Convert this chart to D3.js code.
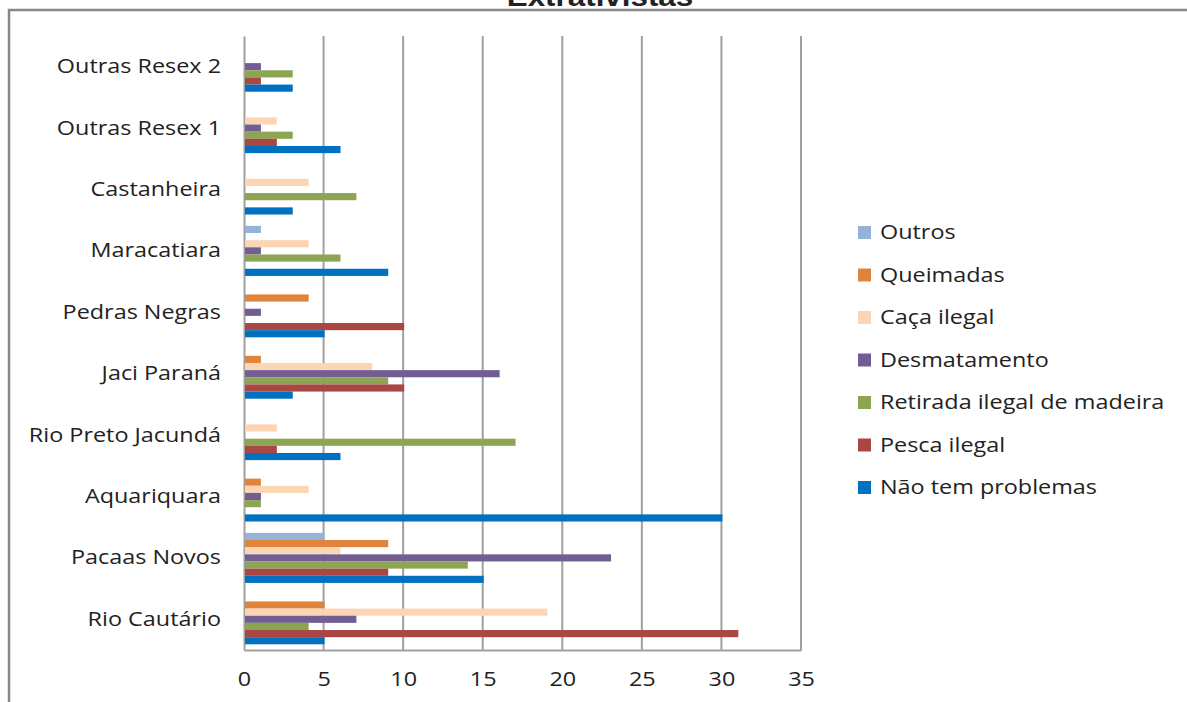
<!DOCTYPE html>
<html>
<head>
<meta charset="utf-8">
<script src="https://cdn.jsdelivr.net/npm/d3@7"></script>
<style>
  body { margin: 0; background: #fff; }
  svg { display: block; }
  text { font-family: "Open Sans", "Liberation Sans", sans-serif; fill: #222; }
</style>
</head>
<body>
<div class="chart"></div>
<script>
// categorias de cima para baixo
const categories = ['Outras Resex 2', 'Outras Resex 1', 'Castanheira', 'Maracatiara', 'Pedras Negras',
  'Jaci Paraná', 'Rio Preto Jacundá', 'Aquariquara', 'Pacaas Novos', 'Rio Cautário']

// séries, na ordem da legenda (cima -> baixo dentro de cada grupo)
const seriesNames = ['Outros', 'Queimadas', 'Caça ilegal', 'Desmatamento',
  'Retirada ilegal de madeira', 'Pesca ilegal', 'Não tem problemas']

const outros      = [0, 0, 0, 1, 0, 0, 0, 0, 5, 0]
const queimadas   = [0, 0, 0, 0, 4, 1, 0, 1, 9, 5]
const cacaIlegal  = [0, 2, 4, 4, 0, 8, 2, 4, 6, 19]
const desmatamento = [1, 1, 0, 1, 1, 16, 0, 1, 23, 7]
const retirada    = [3, 3, 7, 6, 0, 9, 17, 1, 14, 4]
const pescaIlegal = [1, 2, 0, 0, 10, 10, 2, 0, 9, 31]
const naoTem      = [3, 6, 3, 9, 5, 3, 6, 30, 15, 5]

const xTicks = [0, 5, 10, 15, 20, 25, 30, 35]
const colors = ['#95B3D7', '#E0843C', '#FCD5B5', '#725E93', '#8BA552', '#AA4643', '#0070C0']

const seriesValues = [outros, queimadas, cacaIlegal, desmatamento, retirada, pescaIlegal, naoTem]

const width = 1187
const height = 702
const stretch = 1.17 // o texto do original é mais largo

const svg = d3.select('.chart')
  .append('svg')
    .attr('width', width)
    .attr('height', height)

// moldura do gráfico (só topo e esquerda aparecem)
svg.append('rect')
  .attr('x', 9).attr('y', 10)
  .attr('width', 1300).attr('height', 800)
  .attr('fill', 'none')
  .attr('stroke', '#888')
  .attr('stroke-width', 2.5)

// título cortado no topo
svg.append('text')
  .attr('transform', 'translate(600, 6) scale(1.12, 1)')
  .attr('text-anchor', 'middle')
  .style('font-family', '"Liberation Sans", Arial, sans-serif')
  .style('font-weight', 'bold')
  .style('font-size', '28px')
  .text('Extrativistas')

const plot = {left: 244, right: 801, top: 36, bottom: 650}

const x = d3.scaleLinear()
  .domain([0, 35])
  .range([plot.left, plot.right])

const y = d3.scaleBand()
  .domain(categories)
  .range([plot.top, plot.bottom])
  .paddingInner(0.185)
  .paddingOuter(0.0925)

const ySub = d3.scaleBand()
  .domain(seriesNames)
  .range([0, y.bandwidth()])

// linhas de grade
svg.append('g')
  .selectAll('line')
  .data(xTicks.slice(1))
  .enter()
  .append('line')
    .attr('x1', d => x(d)).attr('x2', d => x(d))
    .attr('y1', plot.top).attr('y2', plot.bottom)
    .attr('stroke', '#A0A0A0')
    .attr('stroke-width', 2)

// eixo x
const xAxis = svg.append('g')
  .attr('transform', `translate(0, ${plot.bottom})`)
  .call(d3.axisBottom(x).tickValues(xTicks).tickSize(0).tickPadding(22))
xAxis.select('.domain').attr('stroke', '#A0A0A0').attr('stroke-width', 2)
xAxis.selectAll('text')
  .style('font-size', '20px')
  .style('font-family', '"Open Sans", sans-serif')
  .attr('fill', '#222')
  .attr('transform', `scale(${stretch}, 1)`)

// eixo y
const yAxis = svg.append('g')
  .attr('transform', `translate(${plot.left}, 0)`)
  .call(d3.axisLeft(y).tickSize(0).tickPadding(24))
yAxis.select('.domain').attr('stroke', '#A0A0A0').attr('stroke-width', 2)
yAxis.selectAll('text')
  .style('font-size', '20px')
  .style('font-family', '"Open Sans", sans-serif')
  .attr('fill', '#222')
  .attr('x', -23 / stretch)
  .attr('transform', `scale(${stretch}, 1)`)

// barras
const groups = svg.append('g')
  .selectAll('.group')
  .data(categories)
  .enter()
  .append('g')
    .attr('class', 'group')
    .attr('transform', d => `translate(0, ${y(d)})`)

groups.selectAll('rect')
  .data((c, ci) => seriesNames.map((s, si) => ({s, si, v: seriesValues[si][ci]})).filter(d => d.v > 0))
  .enter()
  .append('rect')
    .attr('x', x(0) + 1)
    .attr('y', d => ySub(d.s))
    .attr('width', d => x(d.v) - x(0))
    .attr('height', ySub.bandwidth())
    .attr('fill', d => colors[d.si])

// legenda
const legend = svg.append('g')
  .selectAll('.legend')
  .data(seriesNames)
  .enter()
  .append('g')
    .attr('class', 'legend')
    .attr('transform', (d, i) => `translate(858, ${232 + i * 42.5})`)

legend.append('rect')
  .attr('x', 0).attr('y', -6)
  .attr('width', 13).attr('height', 13)
  .attr('fill', (d, i) => colors[i])

legend.append('text')
  .attr('x', 22 / stretch).attr('y', 0)
  .attr('dy', '0.35em')
  .attr('transform', `scale(${stretch}, 1)`)
  .style('font-size', '20px')
  .text(d => d)
</script>
</body>
</html>
